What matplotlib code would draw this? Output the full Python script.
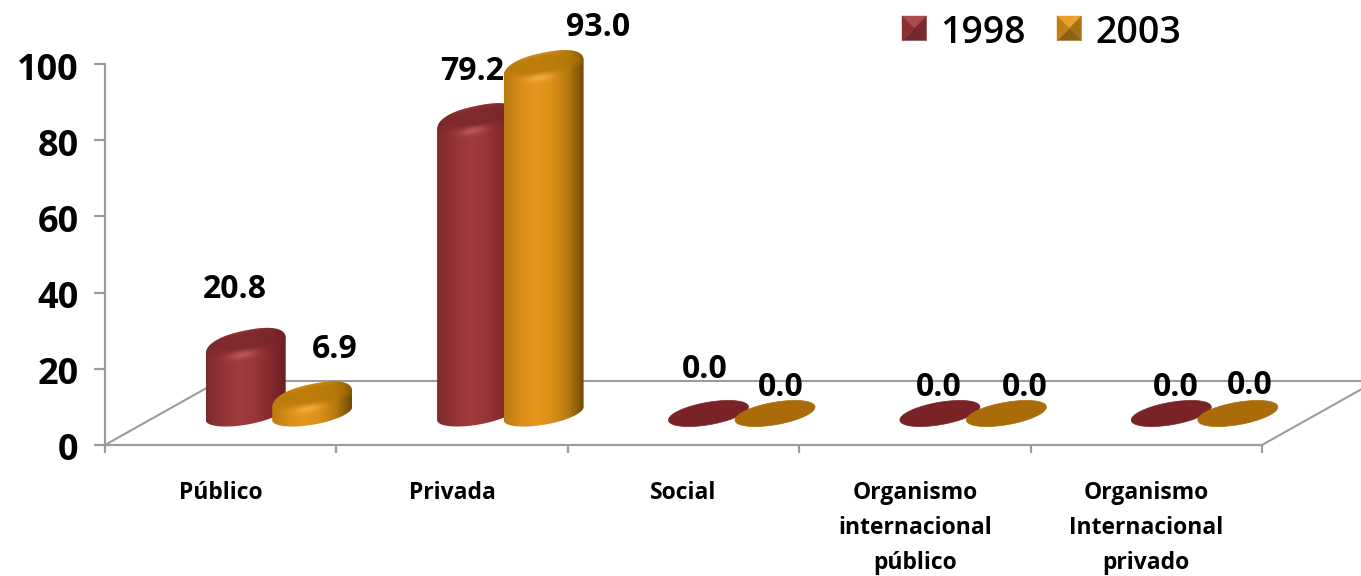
import matplotlib
matplotlib.use("Agg")
import matplotlib.pyplot as plt
import numpy as np
from matplotlib.colors import LinearSegmentedColormap, to_rgb
from matplotlib.patches import Polygon
from matplotlib.transforms import Affine2D, ScaledTranslation

# Data
categories = ["Público", "Privada", "Social",
              "Organismo\ninternacional\npúblico",
              "Organismo\nInternacional\nprivado"]
years = ["1998", "2003"]
values_1998 = [20.8, 79.2, 0.0, 0.0, 0.0]
values_2003 = [6.9, 93.0, 0.0, 0.0, 0.0]
y_ticks = [0, 20, 40, 60, 80, 100]

W, H = 1361, 576
FONT = "Open Sans"

# one data unit in pixels
PX_X = 231.4
PX_Y = 3.81

fig = plt.figure(figsize=(W / 100, H / 100), dpi=100, facecolor="white")
ax = fig.add_axes([105 / W, 1 - 445 / H, (1262 - 105) / W, (445 - 64) / H])
ax.set_facecolor("none")

# pixels, counted from the top left of the picture
px = Affine2D().scale(1, -1).translate(0, H)

GRAY = "#9c9c9c"

# floor of the 3D box
depth_x = 114 / PX_X
depth_y = 64 / PX_Y
ax.plot([0, depth_x, 5 + depth_x], [0, depth_y, depth_y], color=GRAY, lw=1.5, clip_on=False, zorder=1)
ax.plot([5, 5 + depth_x], [0, depth_y], color=GRAY, lw=1.5, clip_on=False, zorder=1)

# cylinder shape
a = 40 / PX_X
b = 11.3 / PX_Y
c = 6.5 / PX_Y
base_y = 31.5 / PX_Y
t = np.linspace(0, 2 * np.pi, 200)

# domed top of the silhouette
dome_drop = 5 / PX_Y
dome_b = 16 / PX_Y
dome_c = 8 / PX_Y


def bar_height(v):
    # the bevel on top takes a little off the visible height
    return max(0, v * 1.01 - 2.1)


def round_pow(s, p=0.85):
    return np.sign(s) * np.abs(s) ** p


def draw_bar(cx, v, colors, cap, light, disc, z):
    if v == 0:
        pts = np.column_stack([cx + a * np.cos(t), base_y + b * np.sin(t) + c * np.cos(t)])
        ax.add_patch(Polygon(pts, closed=True, fc=disc, ec=disc, lw=0.5, clip_on=False, zorder=z))
        return
    top = base_y + bar_height(v)
    low = t[(t >= np.pi)]
    upp = t[(t <= np.pi)]
    cu, su = round_pow(np.cos(upp)), round_pow(np.sin(upp))
    outline = np.vstack([
        np.column_stack([cx + a * np.cos(low), base_y + b * np.sin(low) + c * np.cos(low)]),
        np.column_stack([cx + a * cu, top - dome_drop + dome_b * su + dome_c * cu]),
    ])
    shape = Polygon(outline, closed=True, fc="none", ec="none", transform=ax.transData)
    ax.add_patch(shape)
    shape.set_clip_on(False)

    y0, y1 = base_y - b - c, top + b + c
    cmap = LinearSegmentedColormap.from_list("body", colors)
    im = ax.imshow(np.linspace(0, 1, 256)[None, :], cmap=cmap, aspect="auto", interpolation="bilinear",
                   extent=[cx - a, cx + a, y0, y1], zorder=z)
    im.set_clip_box(fig.bbox)
    im.set_clip_path(shape)

    # darker top face and soft highlight on its front rim
    ys = np.linspace(top - 3 * b, y1, 200)
    xs = np.linspace(cx - a, cx + a, 200)
    X, Y = np.meshgrid(xs, ys)
    u = (X - cx) / a
    w = (Y - top - c * u) / b
    r = np.sqrt(u ** 2 + w ** 2)
    ext = [cx - a, cx + a, ys[0], ys[-1]]

    rgba = np.zeros(X.shape + (4,))
    rgba[..., :3] = to_rgb(cap)
    rgba[..., 3] = np.clip((1.2 - r) / 0.55, 0, 1) * 0.8
    im2 = ax.imshow(rgba, aspect="auto", origin="lower", extent=ext, zorder=z + 0.1)
    im2.set_clip_box(fig.bbox)
    im2.set_clip_path(shape)

    rgba = np.zeros(X.shape + (4,))
    rgba[..., :3] = to_rgb(light)
    rgba[..., 3] = 0.6 * np.exp(-((u + 0.1) / 0.32) ** 2 - ((w + 1.15) / 0.35) ** 2)
    im3 = ax.imshow(rgba, aspect="auto", origin="lower", extent=ext, zorder=z + 0.2)
    im3.set_clip_box(fig.bbox)
    im3.set_clip_path(shape)


RED = ["#7c2a2c", "#933337", "#a03b3e", "#9a3739", "#85292c", "#6a2022"]
ORANGE = ["#b97a12", "#d98d18", "#e6981e", "#dc8f18", "#b87a10", "#6e4c02"]

offsets = [25 / PX_X, 91.5 / PX_X]
for i in range(len(categories)):
    draw_bar(i + 0.5 + offsets[0], values_1998[i], RED, "#78272a", "#cf6f6c", "#7a2327", 3 + i * 0.01)
    draw_bar(i + 0.5 + offsets[1], values_2003[i], ORANGE, "#b47808", "#f8bd52", "#a96c08", 4 + i * 0.01)

# axes
ax.set_xlim(0, 5)
ax.set_ylim(0, 100)
ax.spines["top"].set_visible(False)
ax.spines["right"].set_visible(False)
for s in ["left", "bottom"]:
    ax.spines[s].set_color(GRAY)
    ax.spines[s].set_linewidth(1.6)
ax.set_yticks(y_ticks)
ax.set_yticklabels([str(v) for v in y_ticks], fontsize=26, fontweight="bold", family=FONT)
ax.tick_params(axis="y", length=8, width=1.6, color=GRAY, pad=11)
for lbl in ax.get_yticklabels():
    lbl.set_transform(lbl.get_transform() + ScaledTranslation(0, -2 / 100, fig.dpi_scale_trans))
ax.set_xticks(np.arange(6))
ax.set_xticklabels([])
ax.tick_params(axis="x", which="major", length=6, width=1.6, color=GRAY)
ax.set_xticks(np.arange(5) + 0.5, minor=True)
ax.set_xticklabels(categories, minor=True, fontsize=16.5, fontweight="bold", family=FONT, linespacing=1.6)
ax.tick_params(axis="x", which="minor", length=0, pad=26)

# value labels
label_px = [(235, 289), (335, 349), (472, 72), (598, 27),
            (705, 369), (781, 387), (939, 388), (1025, 387), (1176, 387), (1250, 386)]
label_vals = [values_1998[0], values_2003[0], values_1998[1], values_2003[1],
              values_1998[2], values_2003[2], values_1998[3], values_2003[3],
              values_1998[4], values_2003[4]]
for (lx, ly), v in zip(label_px, label_vals):
    fig.text(lx / W, 1 - ly / H, f"{v:.1f}", fontsize=23, family=FONT, fontweight="bold",
             ha="center", va="center", color="black", zorder=10)


# legend, with pyramid shaped keys
def legend_key(x0, y0, size, colors):
    mid = (x0 + size / 2, y0 + size / 2)
    corners = [(x0, y0), (x0 + size, y0), (x0 + size, y0 + size), (x0, y0 + size)]
    for k in range(4):
        tri = [corners[k], corners[(k + 1) % 4], mid]
        fig.add_artist(Polygon(tri, closed=True, fc=colors[k], ec=colors[k], lw=0.3, transform=px))


legend_key(902, 16, 24.5, ["#ab4c4a", "#7a2a2c", "#74282a", "#8a3033"])
legend_key(1057, 16, 24.5, ["#e8a030", "#a87010", "#8c6010", "#c08014"])
fig.text(983 / W, 1 - 33 / H, years[0], fontsize=27, family=FONT, fontweight="semibold", ha="center", va="center")
fig.text(1138 / W, 1 - 33 / H, years[1], fontsize=27, family=FONT, fontweight="semibold", ha="center", va="center")

fig.savefig("out.png", dpi=100)
